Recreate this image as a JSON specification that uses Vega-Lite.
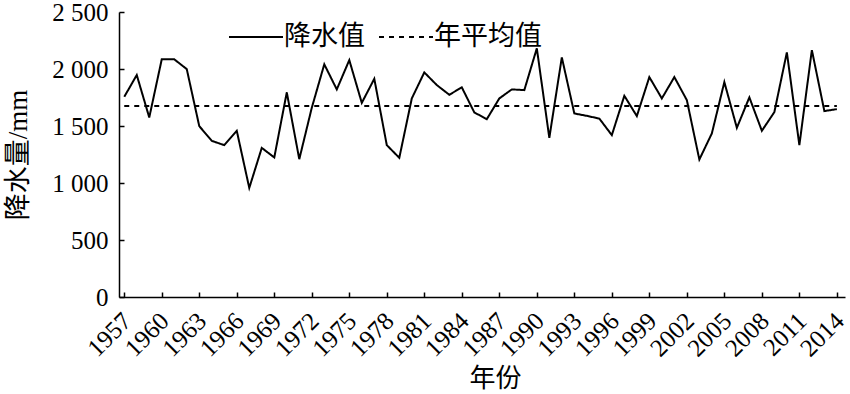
{
  "$schema": "https://vega.github.io/schema/vega-lite/v6.json",
  "width": 726,
  "height": 285,
  "autosize": "none",
  "padding": {"left": 119, "top": 12, "right": 5, "bottom": 97},
  "background": "white",
  "config": {"view": {"stroke": null}, "font": "Liberation Serif"},
  "data": {
    "values": [
      {"year": 1957, "value": 1756, "series": "降水值"},
      {"year": 1958, "value": 1947, "series": "降水值"},
      {"year": 1959, "value": 1575, "series": "降水值"},
      {"year": 1960, "value": 2085, "series": "降水值"},
      {"year": 1961, "value": 2085, "series": "降水值"},
      {"year": 1962, "value": 1999, "series": "降水值"},
      {"year": 1963, "value": 1499, "series": "降水值"},
      {"year": 1964, "value": 1370, "series": "降水值"},
      {"year": 1965, "value": 1332, "series": "降水值"},
      {"year": 1966, "value": 1458, "series": "降水值"},
      {"year": 1967, "value": 957, "series": "降水值"},
      {"year": 1968, "value": 1308, "series": "降水值"},
      {"year": 1969, "value": 1224, "series": "降水值"},
      {"year": 1970, "value": 1795, "series": "降水值"},
      {"year": 1971, "value": 1209, "series": "降水值"},
      {"year": 1972, "value": 1660, "series": "降水值"},
      {"year": 1973, "value": 2041, "series": "降水值"},
      {"year": 1974, "value": 1821, "series": "降水值"},
      {"year": 1975, "value": 2078, "series": "降水值"},
      {"year": 1976, "value": 1703, "series": "降水值"},
      {"year": 1977, "value": 1914, "series": "降水值"},
      {"year": 1978, "value": 1332, "series": "降水值"},
      {"year": 1979, "value": 1221, "series": "降水值"},
      {"year": 1980, "value": 1742, "series": "降水值"},
      {"year": 1981, "value": 1970, "series": "降水值"},
      {"year": 1982, "value": 1859, "series": "降水值"},
      {"year": 1983, "value": 1774, "series": "降水值"},
      {"year": 1984, "value": 1839, "series": "降水值"},
      {"year": 1985, "value": 1619, "series": "降水值"},
      {"year": 1986, "value": 1560, "series": "降水值"},
      {"year": 1987, "value": 1742, "series": "降水值"},
      {"year": 1988, "value": 1821, "series": "降水值"},
      {"year": 1989, "value": 1815, "series": "降水值"},
      {"year": 1990, "value": 2181, "series": "降水值"},
      {"year": 1991, "value": 1396, "series": "降水值"},
      {"year": 1992, "value": 2102, "series": "降水值"},
      {"year": 1993, "value": 1610, "series": "降水值"},
      {"year": 1994, "value": 1589, "series": "降水值"},
      {"year": 1995, "value": 1565, "series": "降水值"},
      {"year": 1996, "value": 1420, "series": "降水值"},
      {"year": 1997, "value": 1765, "series": "降水值"},
      {"year": 1998, "value": 1587, "series": "降水值"},
      {"year": 1999, "value": 1929, "series": "降水值"},
      {"year": 2000, "value": 1742, "series": "降水值"},
      {"year": 2001, "value": 1929, "series": "降水值"},
      {"year": 2002, "value": 1727, "series": "降水值"},
      {"year": 2003, "value": 1206, "series": "降水值"},
      {"year": 2004, "value": 1435, "series": "降水值"},
      {"year": 2005, "value": 1885, "series": "降水值"},
      {"year": 2006, "value": 1484, "series": "降水值"},
      {"year": 2007, "value": 1751, "series": "降水值"},
      {"year": 2008, "value": 1458, "series": "降水值"},
      {"year": 2009, "value": 1622, "series": "降水值"},
      {"year": 2010, "value": 2146, "series": "降水值"},
      {"year": 2011, "value": 1332, "series": "降水值"},
      {"year": 2012, "value": 2166, "series": "降水值"},
      {"year": 2013, "value": 1631, "series": "降水值"},
      {"year": 2014, "value": 1648, "series": "降水值"},
      {"year": 1957, "value": 1675, "series": "年平均值"},
      {"year": 2014, "value": 1675, "series": "年平均值"}
    ]
  },
  "mark": {"type": "line", "color": "black", "strokeWidth": 2},
  "encoding": {
    "x": {
      "field": "year",
      "type": "quantitative",
      "scale": {"domain": [1956.58, 2014.65], "nice": false, "zero": false},
      "axis": {
        "values": [1957, 1960, 1963, 1966, 1969, 1972, 1975, 1978, 1981, 1984, 1987, 1990, 1993, 1996, 1999, 2002, 2005, 2008, 2011, 2014],
        "format": "d",
        "labelAngle": -45,
        "labelFont": "Liberation Serif",
        "labelFontSize": 25,
        "labelColor": "black",
        "labelOverlap": false,
        "labelFlush": false,
        "labelBound": false,
        "labelPadding": 16,
        "labelOffset": -6,
        "tickSize": -5,
        "tickColor": "black",
        "tickWidth": 1.5,
        "domainColor": "black",
        "domainWidth": 1.5,
        "grid": false,
        "title": "年份",
        "titleFont": "Noto Sans CJK SC",
        "titleFontSize": 26,
        "titleFontWeight": "normal",
        "titleColor": "black",
        "titleX": 376,
        "titlePadding": 4
      }
    },
    "y": {
      "field": "value",
      "type": "quantitative",
      "scale": {"domain": [0, 2500], "nice": false},
      "axis": {
        "values": [0, 500, 1000, 1500, 2000, 2500],
        "labelExpr": "replace(format(datum.value, ','), ',', ' ')",
        "labelFont": "Liberation Serif",
        "labelFontSize": 25,
        "labelColor": "black",
        "labelPadding": 16,
        "tickSize": -5,
        "tickColor": "black",
        "tickWidth": 1.5,
        "domainColor": "black",
        "domainWidth": 1.5,
        "grid": false,
        "title": "降水量/mm",
        "titleFont": "Liberation Serif, Noto Sans CJK SC",
        "titleFontSize": 27,
        "titleFontWeight": "normal",
        "titleColor": "black",
        "titlePadding": 19
      }
    },
    "strokeDash": {
      "field": "series",
      "type": "nominal",
      "scale": {"domain": ["降水值", "年平均值"], "range": [[1, 0], [5, 5]]},
      "legend": {
        "title": null,
        "orient": "none",
        "legendX": 109,
        "legendY": -3,
        "direction": "horizontal",
        "symbolType": "stroke",
        "symbolSize": 2916,
        "symbolStrokeWidth": 2,
        "symbolStrokeColor": "black",
        "labelFont": "Noto Sans CJK SC",
        "labelFontSize": 27,
        "labelColor": "black",
        "labelOffset": 0,
        "columnPadding": 10,
        "labelLimit": 0
      }
    }
  }
}
